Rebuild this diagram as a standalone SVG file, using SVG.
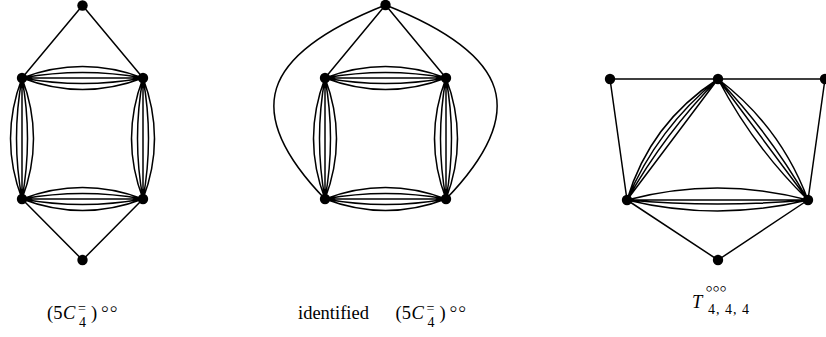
<svg xmlns="http://www.w3.org/2000/svg" width="826" height="337" viewBox="0 0 826 337">
<style>
.e{fill:none;stroke:#000;stroke-width:1.5;stroke-linecap:round}
.n{fill:#000}
.t{font-family:"Liberation Serif","DejaVu Serif",serif;font-size:18.5px;fill:#000}
.i{font-style:italic}
.s{font-size:14px}
.c{font-family:"DejaVu Sans",sans-serif;font-weight:200;font-size:22px;letter-spacing:-5px;fill:#000}
.c3{font-family:"DejaVu Sans",sans-serif;font-weight:200;font-size:20px;letter-spacing:-5.5px;fill:#000}
</style>
<rect width="826" height="337" fill="#fff"/>
<g id="connectors">
<path class="e" d="M82.5,5.5L22,78M82.5,5.5L143,78M22,199L82.5,260M143,199L82.5,260"/>
<path class="e" d="M22,78Q82.5,55 143,78M22,78Q82.5,67 143,78M22,78L143,78M22,78Q82.5,89 143,78M22,78Q82.5,101 143,78"/>
<path class="e" d="M22,199Q82.5,176 143,199M22,199Q82.5,188 143,199M22,199L143,199M22,199Q82.5,210 143,199M22,199Q82.5,222 143,199"/>
<path class="e" d="M22,78Q-1,138.5 22,199M22,78Q11,138.5 22,199M22,78L22,199M22,78Q33,138.5 22,199M22,78Q45,138.5 22,199"/>
<path class="e" d="M143,78Q120,138.5 143,199M143,78Q132,138.5 143,199M143,78L143,199M143,78Q154,138.5 143,199M143,78Q166,138.5 143,199"/>
<path class="e" d="M385.5,5L325,78M385.5,5L446,78"/>
<path class="e" d="M385.5,5C259,55 241.4,112.6 325,199M385.5,5C512,55 529.6,112.6 446,199"/>
<path class="e" d="M325,78Q385.5,55 446,78M325,78Q385.5,67 446,78M325,78L446,78M325,78Q385.5,89 446,78M325,78Q385.5,101 446,78"/>
<path class="e" d="M325,199Q385.5,176 446,199M325,199Q385.5,188 446,199M325,199L446,199M325,199Q385.5,210 446,199M325,199Q385.5,222 446,199"/>
<path class="e" d="M325,78Q302,138.5 325,199M325,78Q314,138.5 325,199M325,78L325,199M325,78Q336,138.5 325,199M325,78Q348,138.5 325,199"/>
<path class="e" d="M446,78Q423,138.5 446,199M446,78Q435,138.5 446,199M446,78L446,199M446,78Q457,138.5 446,199M446,78Q469,138.5 446,199"/>
<path class="e" d="M610,79L825,79M610,79L627,200M825,79L808,200M627,200L718,260M808,200L718,260"/>
<path class="e" d="M718,79L627,200M718,79Q664.5,133.5 627,200M718,79Q657.3,128.1 627,200M718,79Q650.1,122.7 627,200"/>
<path class="e" d="M718,79Q753.4,146.7 808,200M718,79L808,200M718,79Q770.2,134.1 808,200M718,79Q780.6,126.4 808,200"/>
<path class="e" d="M627,200Q717.5,176 808,200M627,200L808,200M627,200Q717.5,208 808,200M627,200Q717.5,222 808,200"/>
</g>
<g id="g1-top"><circle class="n" cx="82.5" cy="5.5" r="5.2"/></g>
<g id="g1-lt"><circle class="n" cx="22" cy="78" r="5.2"/></g>
<g id="g1-rt"><circle class="n" cx="143" cy="78" r="5.2"/></g>
<g id="g1-lb"><circle class="n" cx="22" cy="199" r="5.2"/></g>
<g id="g1-rb"><circle class="n" cx="143" cy="199" r="5.2"/></g>
<g id="g1-bot"><circle class="n" cx="82.5" cy="260" r="5.2"/></g>
<g id="g2-top"><circle class="n" cx="385.5" cy="5" r="5.2"/></g>
<g id="g2-lt"><circle class="n" cx="325" cy="78" r="5.2"/></g>
<g id="g2-rt"><circle class="n" cx="446" cy="78" r="5.2"/></g>
<g id="g2-lb"><circle class="n" cx="325" cy="199" r="5.2"/></g>
<g id="g2-rb"><circle class="n" cx="446" cy="199" r="5.2"/></g>
<g id="g3-tl"><circle class="n" cx="610" cy="79" r="5.2"/></g>
<g id="g3-tm"><circle class="n" cx="718" cy="79" r="5.2"/></g>
<g id="g3-tr"><circle class="n" cx="825" cy="79" r="5.2"/></g>
<g id="g3-lb"><circle class="n" cx="627" cy="200" r="5.2"/></g>
<g id="g3-rb"><circle class="n" cx="808" cy="200" r="5.2"/></g>
<g id="g3-bot"><circle class="n" cx="718" cy="260" r="5.2"/></g>
<g id="label1">
<text class="t" x="47" y="318.5">(5</text>
<text class="t i" x="63" y="318.5">C</text>
<text class="t s" x="78" y="313">=</text>
<text class="t s" x="79" y="327">4</text>
<text class="t" x="91" y="318.5">)</text>
<text class="c" x="98" y="315.5">∘∘</text>
</g>
<g id="label2">
<text class="t" x="298" y="318.5">identified</text>
<text class="t" x="395.5" y="318.5">(5</text>
<text class="t i" x="411.5" y="318.5">C</text>
<text class="t s" x="426.5" y="313">=</text>
<text class="t s" x="427.5" y="327">4</text>
<text class="t" x="439.5" y="318.5">)</text>
<text class="c" x="446.5" y="315.5">∘∘</text>
</g>
<g id="label3">
<text class="t i" x="692" y="308">T</text>
<text class="c3" x="703" y="295">∘∘∘</text>
<text class="t s" x="708 716 725 733 742" y="314">4,4,4</text>
</g>
</svg>
